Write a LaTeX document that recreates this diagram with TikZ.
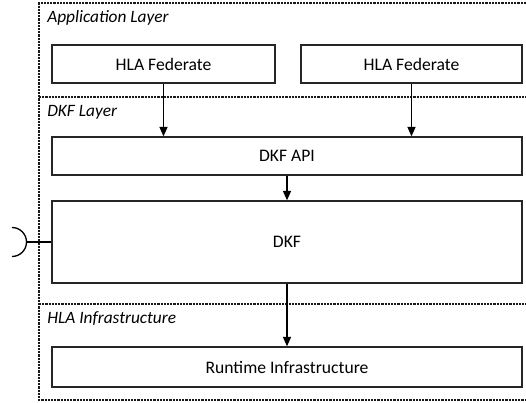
\documentclass[tikz,border=0pt]{standalone}
\usepackage{fontspec}
\setmainfont{Carlito}
\usetikzlibrary{arrows.meta}
\tikzset{
  block/.style={draw=black!85, line width=1pt, fill=white, minimum height=38*0.75pt, inner sep=0pt},
  layername/.style={anchor=west, inner sep=0pt, font=\fontsize{13}{15}\selectfont\itshape},
  layerline/.style={draw=black!90, line width=0.9pt, dash pattern=on 1.6pt off 0.8pt},
  flow/.style={-{Triangle[length=7pt,width=6pt]}, line width=0.9pt}
}
\begin{document}
\begin{tikzpicture}[x=0.75pt, y=-0.75pt, font=\fontsize{13.2}{15}\selectfont]
  \useasboundingbox (0,0) rectangle (526,403);
  % layers
  \draw[layerline] (526,3) -- (39,3) -- (39,400) -- (526,400);
  \draw[layerline] (39,97) -- (526,97);
  \draw[layerline] (39,304) -- (526,304);
  \node[layername] (app) at (47,18) {Application Layer};
  \node[layername] (dkflayer) at (47,112) {DKF Layer};
  \node[layername] (hlainf) at (47,319) {HLA Infrastructure};
  % blocks
  \node[block, minimum width=223*0.75pt] (fedA) at (163.5,64) {HLA Federate};
  \node[block, minimum width=221*0.75pt] (fedB) at (411.5,64) {HLA Federate};
  \node[block, minimum width=470*0.75pt] (api) at (287,156) {DKF API};
  \node[block, minimum width=470*0.75pt, minimum height=82*0.75pt] (dkf) at (287,242) {DKF};
  \node[block, minimum width=470*0.75pt, minimum height=40*0.75pt] (rti) at (287,367) {Runtime Infrastructure};
  % connectors
  \draw[flow] (fedA.south) -- (fedA.south |- api.north);
  \draw[flow] (fedB.south) -- (fedB.south |- api.north);
  \draw[flow] (api) -- (dkf);
  \draw[flow] (dkf) -- (rti);
  % provided interface
  \coordinate (sock) at (26.5,242);
  \draw[line width=1pt] (dkf.west) -- (sock);
  \draw[line width=1pt] (sock) ++(-14.5,-14.5) arc[start angle=-90, end angle=90, radius=14.5];
\end{tikzpicture}
\end{document}
